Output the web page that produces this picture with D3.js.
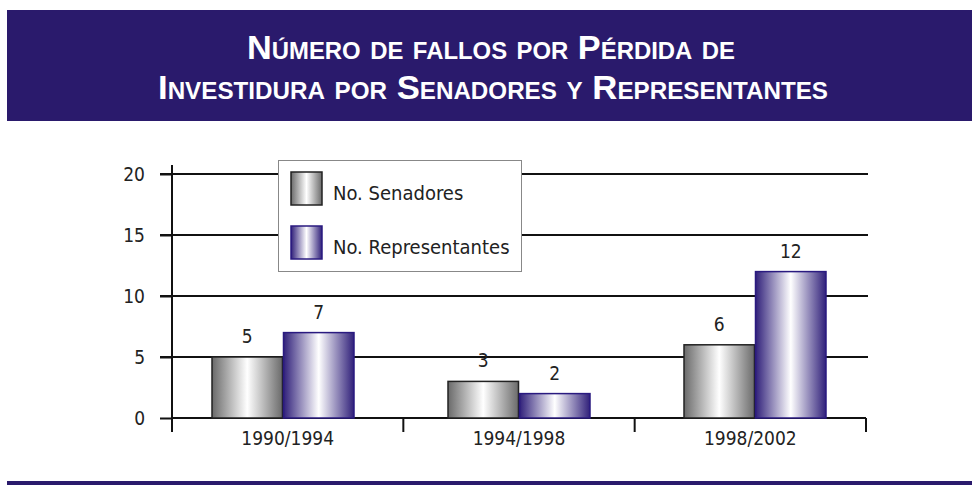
<!DOCTYPE html>
<html><head><meta charset="utf-8">
<script src="https://cdn.jsdelivr.net/npm/d3@7"></script>
<style>
body{margin:0;background:#fff;}
svg{display:block;}
.cond{font-family:"Liberation Sans Narrow","DejaVu Sans Condensed","Roboto Condensed",sans-serif;}
</style></head><body>
<svg id="c" width="972" height="485"></svg>
<script>
const titleLines = ["Número de fallos por Pérdida de", "Investidura por Senadores y Representantes"];
const categories = ["1990/1994", "1994/1998", "1998/2002"];
const seriesNames = ["No. Senadores", "No. Representantes"];
const senadores = [5, 3, 6];
const representantes = [7, 2, 12];
const yTicks = [0, 5, 10, 15, 20];

const svg = d3.select("#c");
const navy = "#2a1a6c";

// header band
svg.append("rect").attr("x", 7).attr("y", 10).attr("width", 965).attr("height", 111).attr("fill", navy);
svg.append("rect").attr("x", 7).attr("y", 481).attr("width", 965).attr("height", 4).attr("fill", navy);

const titleX = [491, 493], titleY = [59, 99], titleW = [488, 670];
titleLines.forEach((t,i)=>{
  svg.append("text").attr("fill","#fff")
    .attr("text-anchor","middle").style("font-family","'Liberation Sans',Arial,sans-serif")
    .style("font-size","33px").style("font-weight","bold")
    .style("font-variant","small-caps")
    .attr("x", titleX[i]).attr("y", titleY[i])
    .attr("textLength", titleW[i]).attr("lengthAdjust","spacingAndGlyphs").text(t);
});

// gradients
const defs = svg.append("defs");
function grad(id, edge){
  const g = defs.append("linearGradient").attr("id", id).attr("x1","0").attr("x2","1").attr("y1","0").attr("y2","0");
  g.append("stop").attr("offset","0%").attr("stop-color", edge);
  g.append("stop").attr("offset","50%").attr("stop-color", "#ffffff");
  g.append("stop").attr("offset","100%").attr("stop-color", edge);
}
grad("gSen", "#6a6a6a");
grad("gRep", "#30207a");
const fills = ["url(#gSen)", "url(#gRep)"];
const strokes = ["#222", "#2a1a80"];

const xAxisScale = d3.scaleBand().domain(categories).range([172, 866]);
const x0 = d3.scaleBand().domain(categories).range([165, 873]);
const x1 = d3.scaleBand().domain(seriesNames).range([0, 143]);
const y = d3.scaleLinear().domain([0, 20]).range([418, 174]);

// gridlines
svg.append("g").selectAll("line").data(yTicks.filter(d=>d>0)).join("line")
  .attr("x1", 160).attr("x2", 868).attr("y1", d=>y(d)).attr("y2", d=>y(d))
  .attr("stroke","#111").attr("stroke-width",2);

// y axis
const ya = svg.append("g").attr("transform","translate(172,0)")
  .call(d3.axisLeft(y).tickValues(yTicks).tickSize(12).tickPadding(15));
ya.select(".domain").attr("d","M0,165V432").attr("stroke","#111").attr("stroke-width",2);
ya.selectAll(".tick line").attr("stroke","#111").attr("stroke-width",2);
ya.selectAll(".tick text").attr("class","cond").style("font-size","19px").attr("fill","#222");

// x axis
const xa = svg.append("g").attr("transform","translate(0,418)")
  .call(d3.axisBottom(xAxisScale).tickSize(0).tickPadding(14));
xa.select(".domain").remove();
svg.append("line").attr("x1",172).attr("x2",866).attr("y1",418).attr("y2",418).attr("stroke","#111").attr("stroke-width",2);
svg.append("g").selectAll("line").data([...categories.map(c=>xAxisScale(c)), 866]).join("line")
  .attr("x1", d=>d).attr("x2", d=>d).attr("y1", 418).attr("y2", 432).attr("stroke","#111").attr("stroke-width",2);
xa.selectAll(".tick text").attr("class","cond").style("font-size","19px").attr("fill","#222");

// bars
const data = categories.map((c,i)=>({c, vals:[senadores[i], representantes[i]]}));
const grp = svg.append("g").selectAll("g").data(data).join("g")
  .attr("transform", d=>`translate(${x0(d.c) + (x0.bandwidth()-143)/2},0)`);
grp.selectAll("rect").data(d=>d.vals.map((v,j)=>({v,j}))).join("rect")
  .attr("x", d=>x1(seriesNames[d.j])+0.5).attr("width", x1.bandwidth()-1)
  .attr("y", d=>y(d.v)).attr("height", d=>y(0)-y(d.v))
  .attr("fill", d=>fills[d.j]).attr("stroke", d=>strokes[d.j]).attr("stroke-width",1.5);
grp.selectAll("text").data(d=>d.vals.map((v,j)=>({v,j}))).join("text")
  .attr("class","cond").attr("text-anchor","middle")
  .attr("x", d=>x1(seriesNames[d.j]) + x1.bandwidth()/2).attr("y", d=>y(d.v)-14)
  .style("font-size","19px").attr("fill","#222").text(d=>d.v);

// legend
const lg = svg.append("g");
lg.append("rect").attr("x",278.5).attr("y",160.5).attr("width",243).attr("height",111)
  .attr("fill","#fff").attr("stroke","#888").attr("stroke-width",1);
seriesNames.forEach((s,i)=>{
  const yy = 172 + i*54;
  lg.append("rect").attr("x",291).attr("y",yy).attr("width",31).attr("height",33)
    .attr("fill",fills[i]).attr("stroke",strokes[i]).attr("stroke-width",1.5);
  lg.append("text").attr("class","cond").attr("x",333).attr("y",yy+28)
    .style("font-size","20px").attr("fill","#222").text(s);
});
</script></body></html>
